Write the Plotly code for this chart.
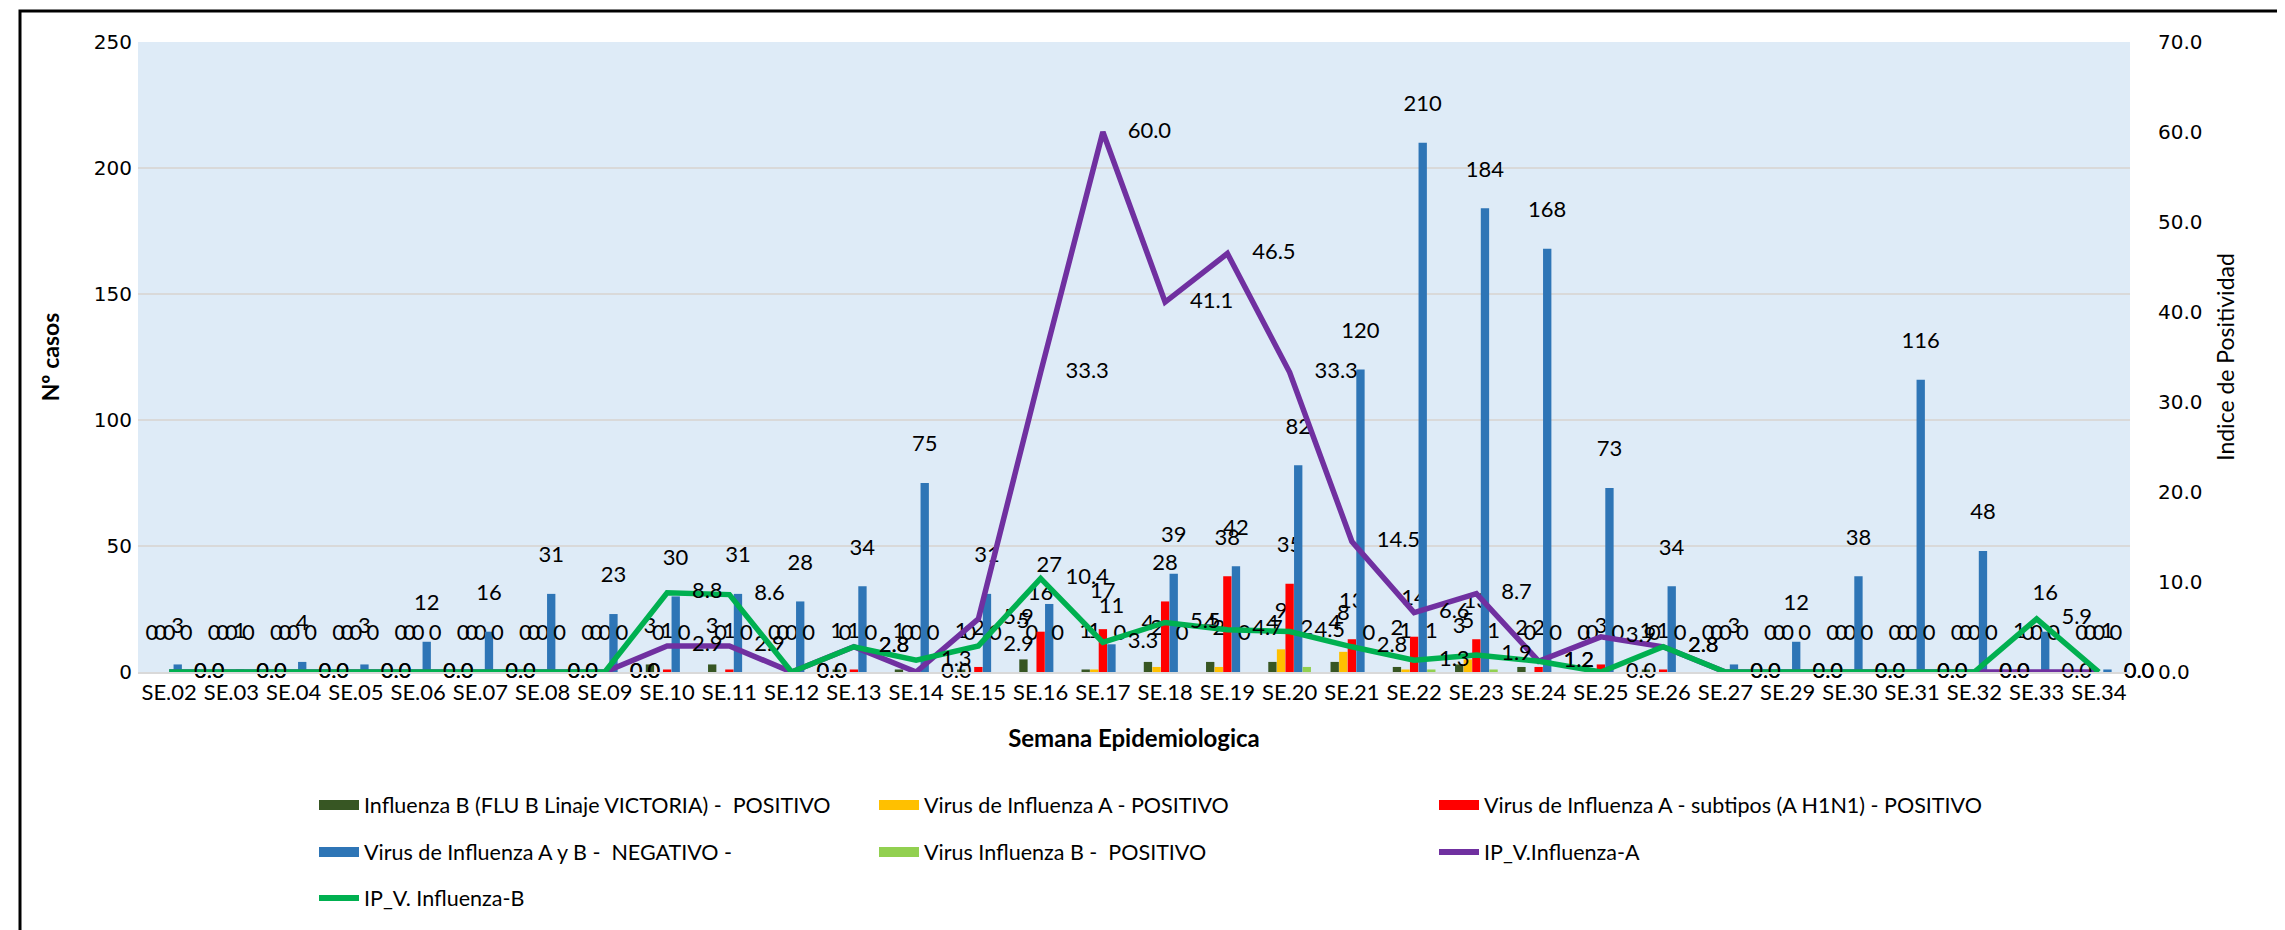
import plotly.graph_objects as go

weeks = ["SE.02", "SE.03", "SE.04", "SE.05", "SE.06", "SE.07", "SE.08", "SE.09",
         "SE.10", "SE.11", "SE.12", "SE.13", "SE.14", "SE.15", "SE.16", "SE.17",
         "SE.18", "SE.19", "SE.20", "SE.21", "SE.22", "SE.23", "SE.24", "SE.25",
         "SE.26", "SE.27", "SE.29", "SE.30", "SE.31", "SE.32", "SE.33", "SE.34"]

flu_b_victoria = [0, 0, 0, 0, 0, 0, 0, 0, 3, 3, 0, 1, 1, 1, 5, 1,
                  4, 4, 4, 4, 2, 3, 2, 0, 1, 0, 0, 0, 0, 0, 1, 0]
flu_a_pos = [0, 0, 0, 0, 0, 0, 0, 0, 0, 0, 0, 0, 0, 0, 0, 1,
             2, 2, 9, 8, 1, 5, 0, 0, 0, 0, 0, 0, 0, 0, 0, 0]
flu_a_h1n1 = [0, 0, 0, 0, 0, 0, 0, 0, 1, 1, 0, 1, 0, 2, 16, 17,
              28, 38, 35, 13, 14, 13, 2, 3, 1, 0, 0, 0, 0, 0, 0, 0]
negativo = [3, 1, 4, 3, 12, 16, 31, 23, 30, 31, 28, 34, 75, 31, 27, 11,
            39, 42, 82, 120, 210, 184, 168, 73, 34, 3, 12, 38, 116, 48, 16, 1]
flu_b_pos = [0, 0, 0, 0, 0, 0, 0, 0, 0, 0, 0, 0, 0, 0, 0, 0,
             0, 0, 2, 0, 1, 1, 0, 0, 0, 0, 0, 0, 0, 0, 0, 0]
ip_a = [0.0, 0.0, 0.0, 0.0, 0.0, 0.0, 0.0, 0.0, 2.9, 2.9, 0.0, 2.8, 0.0, 5.9, 33.3, 60.0,
        41.1, 46.5, 33.3, 14.5, 6.6, 8.7, 1.2, 3.9, 2.8, 0.0, 0.0, 0.0, 0.0, 0.0, 0.0, 0.0]
ip_b = [0.0, 0.0, 0.0, 0.0, 0.0, 0.0, 0.0, 0.0, 8.8, 8.6, 0.0, 2.8, 1.3, 2.9, 10.4, 3.3,
        5.5, 4.7, 4.5, 2.8, 1.3, 1.9, 1.2, 0.0, 2.8, 0.0, 0.0, 0.0, 0.0, 0.0, 5.9, 0.0]

left_ticks = [0, 50, 100, 150, 200, 250]
right_ticks = [0, 10, 20, 30, 40, 50, 60, 70]

TXT = "Lato"
NUM = "DejaVu Sans"
LBL = 22

bars = [
    ("Influenza B (FLU B Linaje VICTORIA) -  POSITIVO", flu_b_victoria, "#375623", "legend"),
    ("Virus de Influenza A - POSITIVO", flu_a_pos, "#FFC000", "legend"),
    ("Virus de Influenza A - subtipos (A H1N1) - POSITIVO", flu_a_h1n1, "#FF0000", "legend"),
    ("Virus de Influenza A y B -  NEGATIVO -", negativo, "#2E75B6", "legend2"),
    ("Virus Influenza B -  POSITIVO", flu_b_pos, "#92D050", "legend2"),
]

fig = go.Figure()
for name, vals, color, lg in bars:
    fig.add_trace(go.Bar(
        x=weeks, y=vals, name=name, marker=dict(color=color, line=dict(width=0)),
        texttemplate="%{y}<br><span style='font-size:1px'>&nbsp;</span>",
        textposition="outside", textangle=0, constraintext="none",
        cliponaxis=False, textfont=dict(family=TXT, size=LBL, color="black"),
        showlegend=False, hoverinfo="x+y+name",
    ))

lines = [
    ("IP_V.Influenza-A", ip_a, "#7030A0", "legend2"),
    ("IP_V. Influenza-B", ip_b, "#00B050", "legend3"),
]
for name, vals, color, lg in lines:
    fig.add_trace(go.Scatter(
        x=weeks, y=vals, name=name, yaxis="y2", mode="lines+markers+text",
        line=dict(color=color, width=5.5), marker=dict(size=38, opacity=0, color=color),
        texttemplate="%{y:.1f}", textposition="middle right", cliponaxis=False,
        textfont=dict(family=TXT, size=LBL, color="black"), showlegend=False,
    ))

# legend entries (wide swatches like the original), in the original order
legend_entries = [(n, c, lg, 10) for n, _, c, lg in bars]
legend_entries += [(n, c, lg, 6) for n, _, c, lg in lines]
for name, color, lg, lw in legend_entries:
    fig.add_trace(go.Scatter(
        x=[None], y=[None], name=name, mode="lines",
        line=dict(color=color, width=lw), legend=lg, hoverinfo="skip",
    ))

L, R, T, B = 130, 2122, 34, 664
W, H = R - L, B - T

def px_x(x):
    return (x - L) / W

def px_y(y):
    return (B - y) / H

legend_common = dict(orientation="h", xanchor="left", yanchor="middle",
                     entrywidth=505, font=dict(family=TXT, size=21.5, color="black"),
                     bgcolor="rgba(0,0,0,0)", itemwidth=40)

fig.update_layout(
    width=2285, height=930,
    margin=dict(l=L, r=2285 - R, t=T, b=930 - B, autoexpand=False),
    paper_bgcolor="white", plot_bgcolor="#DEEBF7",
    barmode="group", bargap=0.31, bargroupgap=0.03,
    font=dict(family=TXT, size=LBL, color="black"),
    xaxis=dict(type="category", range=[-0.5, len(weeks) - 0.5], showgrid=False,
               showline=True, linecolor="#D9D9D9",
               linewidth=2, ticks="", tickfont=dict(family=TXT, size=22, color="black"),
               title=dict(text="<b>Semana Epidemiologica</b>", font=dict(family=TXT, size=24),
                          standoff=26),
               automargin=False),
    yaxis=dict(range=[0, 250], tickvals=left_ticks, showgrid=True, gridcolor="#D9D9D9",
               gridwidth=2, zeroline=False, showline=False,
               tickfont=dict(family=NUM, size=20, color="black"), ticklabelstandoff=5,
               title=dict(text="<b>Nº casos</b>", font=dict(family=TXT, size=23), standoff=27),
               automargin=False),
    yaxis2=dict(overlaying="y", side="right", range=[0, 70], tickvals=right_ticks,
                tickformat=".1f", showgrid=False, zeroline=False, showline=False,
                tickfont=dict(family=NUM, size=20, color="black"), ticklabelstandoff=27,
                title=dict(text="Indice de Positividad", font=dict(family=TXT, size=23), standoff=16),
                automargin=False),
    legend=dict(x=px_x(306), y=px_y(797), **legend_common),
    legend2=dict(x=px_x(306), y=px_y(844), **legend_common),
    legend3=dict(x=px_x(306), y=px_y(890), **legend_common),
    shapes=[dict(type="rect", xref="paper", yref="paper",
                 x0=px_x(12), x1=px_x(2276), y0=px_y(925), y1=px_y(3),
                 line=dict(color="black", width=3), fillcolor="rgba(0,0,0,0)", layer="below")],
)

fig.write_html("out.html")
